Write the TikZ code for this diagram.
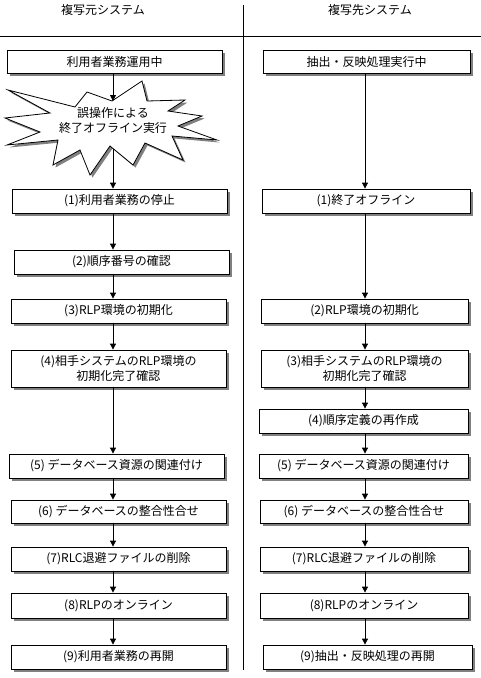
\documentclass[tikz,border=0pt]{standalone}
\usepackage{fontspec}
\setmainfont{Noto Sans CJK JP}
\usetikzlibrary{arrows.meta,shadows}

\begin{document}
\begin{tikzpicture}[x=1pt,y=-1pt,
  stepbox/.style={draw, fill=white, line width=0.8pt, inner sep=0pt,
    minimum height=24pt, align=center, font=\fontsize{12}{15}\selectfont,
    drop shadow={shadow xshift=3pt, shadow yshift=-3pt, fill=black!50, opacity=1}},
  lbox/.style={stepbox, minimum width=215pt},
  rbox/.style={stepbox, minimum width=208pt},
  flow/.style={-{Triangle[width=6pt,length=6pt]}, line width=0.8pt}]
  \useasboundingbox (0,0) rectangle (481,678);
  % column headers and separators
  \node[font=\fontsize{12}{15}\selectfont] (srchead) at (103,10) {複写元システム};
  \node[font=\fontsize{12}{15}\selectfont] (dsthead) at (370,10) {複写先システム};
  \draw[line width=0.8pt] (0,36) -- (481,36);
  \draw[line width=0.8pt] (243,5) -- (243,670);
  % error star (shadow first, then outline)
  \def\errstar{(142,81) -- (147,101) -- (185,100) -- (168,111) -- (202,116)
    -- (178,126) -- (217,140) -- (172,136) -- (183,160) -- (145,143)
    -- (133,165) -- (110,146) -- (90,175) -- (80,150) -- (53,165)
    -- (58,140) -- (7,145) -- (40,132) -- (5,118) -- (50,113) -- (8,90)
    -- (75,107) -- (87,92) -- (112,101) -- cycle}
  \fill[black!50, shift={(2.5,2.5)}] \errstar;
  \draw[fill=white, line width=0.8pt] \errstar;
  \node[align=center, font=\fontsize{12}{15}\selectfont] (err) at (113,120.5)
    {誤操作による\\終了オフライン実行};
  \coordinate (errtop) at (113,101);
  \coordinate (errbot) at (113,149);
  % left column: copy source
  \node[stepbox, minimum width=215pt, minimum height=23pt] (l0) at (114.5,61.5) {利用者業務運用中};
  \node[lbox] (l1) at (119.5,201) {(1)利用者業務の停止};
  \node[lbox] (l2) at (121.5,262) {(2)順序番号の確認};
  \node[lbox] (l3) at (118.5,311) {(3)RLP環境の初期化};
  \node[lbox, minimum height=37pt] (l4) at (118.5,368.5) {(4)相手システムのRLP環境の\\初期化完了確認};
  \node[lbox] (l5) at (116.5,466) {(5) データベース資源の関連付け};
  \node[lbox, minimum height=23pt] (l6) at (118.5,511.5) {(6) データベースの整合性合せ};
  \node[lbox] (l7) at (118.5,559) {(7)RLC退避ファイルの削除};
  \node[lbox, minimum height=25pt] (l8) at (118.5,605.5) {(8)RLPのオンライン};
  \node[lbox] (l9) at (118.5,657) {(9)利用者業務の再開};
  % right column: copy destination
  \node[rbox, minimum width=207pt, minimum height=23pt] (r0) at (366.5,61.5) {抽出・反映処理実行中};
  \node[rbox] (r1) at (366,201) {(1)終了オフライン};
  \node[rbox, minimum width=207pt] (r2) at (364.5,311) {(2)RLP環境の初期化};
  \node[rbox, minimum width=207pt, minimum height=37pt] (r3) at (364.5,368.5) {(3)相手システムのRLP環境の\\初期化完了確認};
  \node[rbox, minimum width=209pt] (r4) at (363.5,421) {(4)順序定義の再作成};
  \node[rbox, minimum width=209pt] (r5) at (363.5,466) {(5) データベース資源の関連付け};
  \node[rbox, minimum height=23pt] (r6) at (364,511.5) {(6) データベースの整合性合せ};
  \node[rbox] (r7) at (364,559) {(7)RLC退避ファイルの削除};
  \node[rbox, minimum height=25pt] (r8) at (364,605.5) {(8)RLPのオンライン};
  \node[rbox, minimum width=209pt] (r9) at (367.5,657) {(9)抽出・反映処理の再開};
  % connectors
  \coordinate (rx) at (365,0);
  \draw[flow] (l0.south -| errtop) -- (errtop);
  \draw[flow] (errbot) -- (l1.north -| errtop);
  \foreach \a/\b in {l1/l2,l2/l3,l3/l4,l4/l5,l5/l6,l6/l7,l7/l8,l8/l9}
    \draw[flow] (\a.south -| errtop) -- (\b.north -| errtop);
  \foreach \a/\b in {r0/r1,r1/r2,r2/r3,r3/r4,r4/r5,r5/r6,r6/r7,r7/r8,r8/r9}
    \draw[flow] (\a.south -| rx) -- (\b.north -| rx);
\end{tikzpicture}
\end{document}
